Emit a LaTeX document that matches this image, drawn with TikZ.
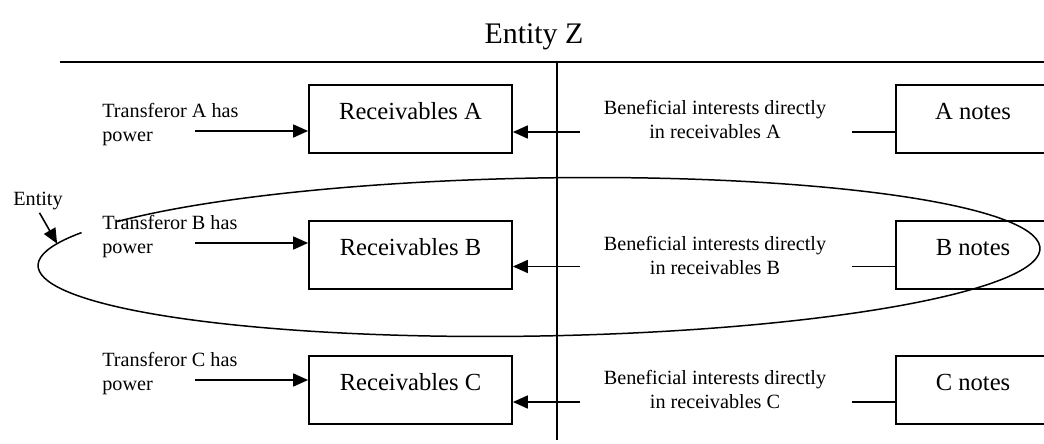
\documentclass[tikz,border=0pt]{standalone}
\usepackage{fontspec}
\setmainfont{Liberation Serif}
\usetikzlibrary{arrows.meta,positioning}
\tikzset{
    recv/.style={
        draw,line width=1pt,minimum width=4.06cm,inner sep=0pt,
        text height=19.9pt,text depth=18.8pt,font=\fontsize{14}{17}\selectfont
    },
    notes/.style={recv,minimum width=3.08cm},
    small/.style={
        font=\fontsize{11.5}{13.4}\selectfont,inner sep=0pt
    },
    pointer/.style={
        -{Triangle[length=3mm,width=2.6mm]},line width=0.9pt
    },
    stub/.style={line width=0.9pt}
}

\begin{document}
\begin{tikzpicture}
\useasboundingbox (0,0) rectangle (20.88,8.86);

\node[font=\fontsize{17}{20}\selectfont] (title) at (10.68,8.12) {Entity Z};
\draw[line width=1pt] (1.2,7.62) -- (20.88,7.62);
\draw[line width=1pt] (11.14,7.62) -- (11.14,0.06);

% the entity that holds the B side
\begin{scope}[shift={(10.78,3.72)},rotate=1]
\draw[line width=0.85pt] (147.2:10.02 and 1.58)
    arc[start angle=147.2,end angle=-204.2,x radius=10.02,y radius=1.58];
\coordinate (etip) at (164:10.02 and 1.58);
\end{scope}
\node[small] (ent) at (0.76,4.84) {Entity};
\draw[pointer,shorten <=0.6mm] (ent.south) -- (etip);

\node[recv] (recvA) at (8.21,6.48) {Receivables A};
\node[recv] (recvB) at (8.21,3.76) {Receivables B};
\node[recv] (recvC) at (8.21,1.06) {Receivables C};

\node[notes] (notesA) at (19.46,6.48) {A notes};
\node[notes] (notesB) at (19.46,3.76) {B notes};
\node[notes] (notesC) at (19.46,1.06) {C notes};

\node[small,align=left,anchor=north west] (trA) at (2.04,6.8) {Transferor A has\\power};
\node[small,align=left,anchor=north west] (trB) at (2.04,4.56) {Transferor B has\\power};
\node[small,align=left,anchor=north west] (trC) at (2.04,1.82) {Transferor C has\\power};

\node[small,align=center,anchor=north] (benA) at (14.3,6.86) {Beneficial interests directly\\in receivables A};
\node[small,align=center,anchor=north] (benB) at (14.3,4.14) {Beneficial interests directly\\in receivables B};
\node[small,align=center,anchor=north] (benC) at (14.3,1.46) {Beneficial interests directly\\in receivables C};

\coordinate (pA) at (3.9,6.24);
\coordinate (pB) at (3.9,4.00);
\coordinate (pC) at (3.9,1.26);
\draw[pointer] (pA) -- (pA -| recvA.west);
\draw[pointer] (pB) -- (pB -| recvB.west);
\draw[pointer] (pC) -- (pC -| recvC.west);

\coordinate (bA) at (11.6,6.22);
\coordinate (bB) at (11.6,3.53);
\coordinate (bC) at (11.6,0.82);
\draw[pointer] (bA) -- (bA -| recvA.east);
\draw[pointer] (bB) -- (bB -| recvB.east);
\draw[pointer] (bC) -- (bC -| recvC.east);

\coordinate (nA) at (17.04,6.22);
\coordinate (nB) at (17.04,3.53);
\coordinate (nC) at (17.04,0.82);
\draw[stub] (nA) -- (nA -| notesA.west);
\draw[stub] (nB) -- (nB -| notesB.west);
\draw[stub] (nC) -- (nC -| notesC.west);

\end{tikzpicture}
\end{document}
